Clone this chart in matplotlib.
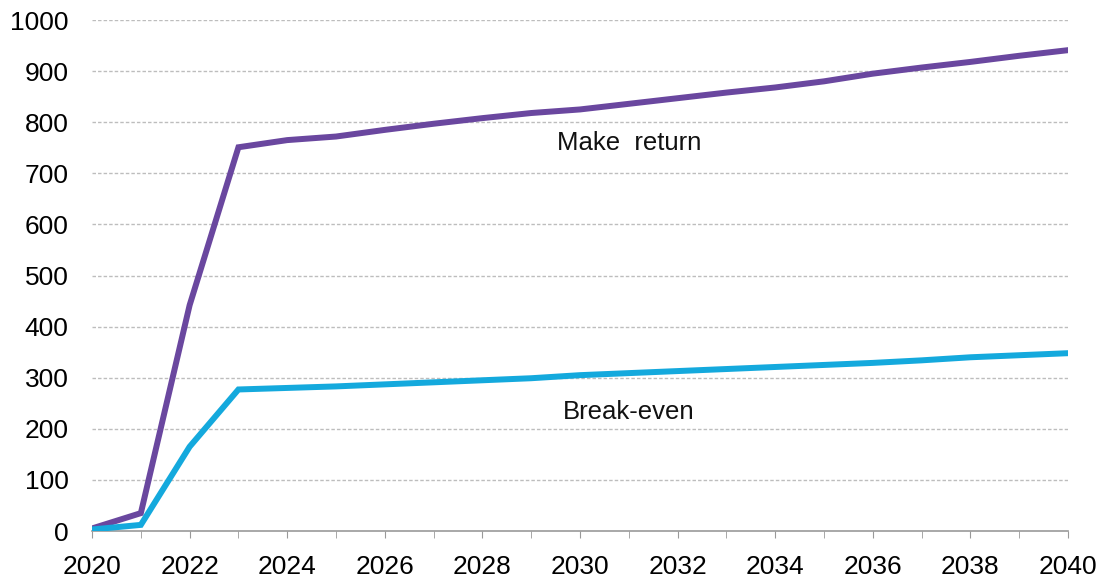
import matplotlib
matplotlib.use("Agg")
import matplotlib.pyplot as plt
import numpy as np

years = list(range(2020, 2041))
make_return = [5, 35, 442, 751, 765, 772, 785, 797, 808, 818, 825, 836, 847, 858, 868, 880, 895, 907, 918, 930, 941]
break_even = [3, 12, 165, 277, 280, 283, 287, 291, 295, 299, 305, 309, 313, 317, 321, 325, 329, 334, 340, 344, 348]
y_ticks = [0, 100, 200, 300, 400, 500, 600, 700, 800, 900, 1000]
x_labels = list(range(2020, 2041, 2))

plt.rcParams['font.family'] = ['Liberation Sans', 'DejaVu Sans']

fig = plt.figure(figsize=(11.01, 5.82), dpi=100)
ax = fig.add_axes([0.0836, 0.0876, 0.970 - 0.0836, 0.9656 - 0.0876])

for yv in y_ticks[1:]:
    ax.axhline(yv, color='#bdbdbd', lw=1.0, ls=(0, (2.5, 1.5)), zorder=1)

ax.plot(years, make_return, color='#6a479f', lw=4.3, solid_joinstyle='miter', zorder=3)
ax.plot(years, break_even, color='#14a9dd', lw=4.3, solid_joinstyle='miter', zorder=3)

ax.text(2031.0, 759, 'Make  return', fontsize=18.5, ha='center', va='center', color='#111111')
ax.text(2031.0, 233, 'Break-even', fontsize=18.5, ha='center', va='center', color='#111111')

ax.set_xlim(2020, 2040)
ax.set_ylim(0, 1000)
ax.set_yticks(y_ticks)
ax.set_xticks(years, minor=True)
ax.set_xticks(x_labels)
ax.set_xticklabels([str(x) for x in x_labels])
ax.tick_params(axis='y', length=0, labelsize=19, pad=17)
ax.tick_params(axis='x', which='both', length=5, color='#999999', labelsize=19, pad=12, direction='out')
for s in ['top', 'right', 'left']:
    ax.spines[s].set_visible(False)
ax.spines['bottom'].set_color('#999999')
ax.spines['bottom'].set_linewidth(1.2)

fig.savefig('out.png', dpi=100)
